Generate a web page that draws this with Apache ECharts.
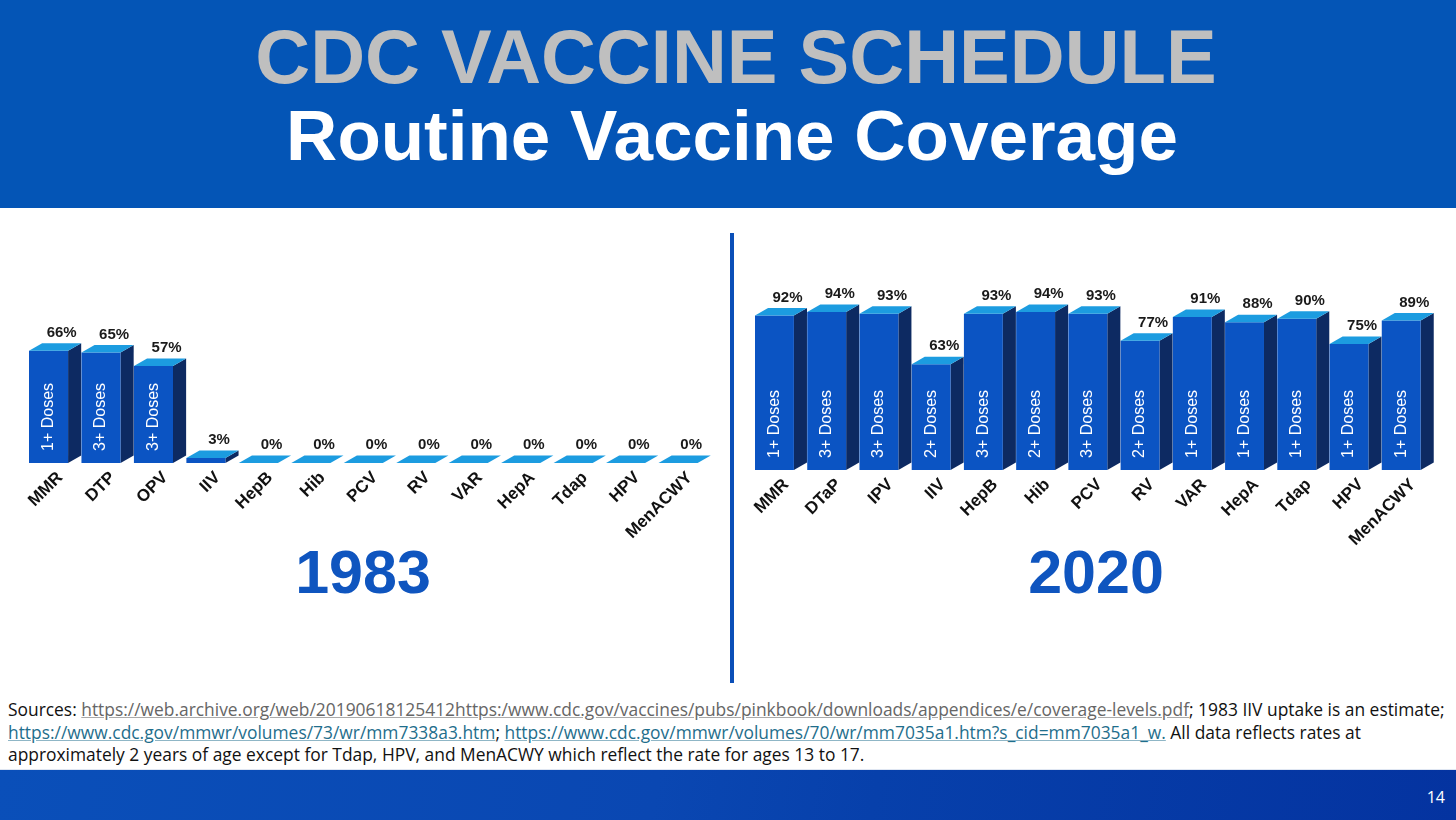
<!DOCTYPE html>
<html>
<head>
<meta charset="utf-8">
<title>CDC Vaccine Schedule - Routine Vaccine Coverage</title>
<script src="https://cdn.jsdelivr.net/npm/echarts@6/dist/echarts.min.js"></script>
<style>
    html, body { margin: 0; padding: 0; width: 1456px; height: 820px; overflow: hidden; background: #ffffff; }
    body { position: relative; font-family: "Liberation Sans", Arial, sans-serif; }
    #header { position: absolute; left: 0; top: 0; width: 1456px; height: 208px; background: #0455b6; }
    .head-line { position: absolute; left: 0; width: 1456px; text-align: center; font-weight: bold; line-height: 1; white-space: nowrap; }
    #title1 { top: 19px; left: 8px; font-size: 76px; color: #bfbfbf; }
    #title2 { top: 100px; left: 4px; font-size: 71px; color: #ffffff; }
    #main { position: absolute; left: 0; top: 208px; width: 1456px; height: 482px; }
    #sources { position: absolute; left: 8px; top: 698px; font-family: "Open Sans", sans-serif; font-size: 15px; line-height: 22.5px; color: #111111; white-space: nowrap; }
    #sources .grey { color: #666666; text-decoration: underline; text-decoration-color: #aaaaaa; }
    #sources .teal { color: #1f6e8c; text-decoration: underline; text-decoration-color: #8fb6c6; }
    #footer { position: absolute; left: 0; top: 769px; width: 1456px; height: 51px; background: linear-gradient(100deg, #0a4fb9 0%, #0a47b2 45%, #0740ab 60%, #0433a0 100%); border-top: 1px solid #dfe6f2; }
    #page { position: absolute; right: 11px; top: 16px; font-family: "Open Sans", sans-serif; font-size: 16px; color: #ffffff; }
</style>
</head>
<body>
<div id="header">
    <div id="title1" class="head-line">CDC VACCINE SCHEDULE</div>
    <div id="title2" class="head-line">Routine Vaccine Coverage</div>
</div>
<div id="main"></div>
<div id="sources"><span id="line1">Sources: <span class="grey">https://web.archive.org/web/20190618125412https:/www.cdc.gov/vaccines/pubs/pinkbook/downloads/appendices/e/coverage-levels.pdf</span>; 1983 IIV uptake is an estimate;</span><br><span class="teal">https://www.cdc.gov/mmwr/volumes/73/wr/mm7338a3.htm</span>; <span class="teal">https://www.cdc.gov/mmwr/volumes/70/wr/mm7035a1.htm?s_cid=mm7035a1_w.</span> All data reflects rates at<br>approximately 2 years of age except for Tdap, HPV, and MenACWY which reflect the rate for ages 13 to 17.</div>
<div id="footer"><div id="page">14</div></div>

<script>
    // 1983 coverage
    var cats1983 = ['MMR', 'DTP', 'OPV', 'IIV', 'HepB', 'Hib', 'PCV', 'RV', 'VAR', 'HepA', 'Tdap', 'HPV', 'MenACWY'];
    var vals1983 = [66, 65, 57, 3, 0, 0, 0, 0, 0, 0, 0, 0, 0];
    var doses1983 = ['1+ Doses', '3+ Doses', '3+ Doses', '', '', '', '', '', '', '', '', '', ''];

    // 2020 coverage
    var cats2020 = ['MMR', 'DTaP', 'IPV', 'IIV', 'HepB', 'Hib', 'PCV', 'RV', 'VAR', 'HepA', 'Tdap', 'HPV', 'MenACWY'];
    var vals2020 = [92, 94, 93, 63, 93, 94, 93, 77, 91, 88, 90, 75, 89];
    var doses2020 = ['1+ Doses', '3+ Doses', '3+ Doses', '2+ Doses', '3+ Doses', '2+ Doses', '3+ Doses',
        '2+ Doses', '1+ Doses', '1+ Doses', '1+ Doses', '1+ Doses', '1+ Doses'];

    var years = ['1983', '2020'];

    // fit the sources text to the slide width
    (function fitSources() {
        var box = document.getElementById('sources');
        var w = document.getElementById('line1').getBoundingClientRect().width;
        box.style.fontSize = (15 * 1437 / w).toFixed(2) + 'px';
    })();

    var chartDom = document.getElementById('main');
    var myChart = echarts.init(chartDom);

    var FRONT = '#0b54c3';
    var SIDE = '#0d2a62';
    var TOP = '#1c9ce0';
    var LABEL_SHIFT = 5; // category labels sit a little right of the bar centre

    function renderBar(doses) {
        return function (params, api) {
            var base = api.coord([api.value(0), 0]);
            var top = api.coord([api.value(0), api.value(1)]);
            var bw = api.size([1, 0])[0];
            var fw = bw * 0.745;
            var dx = bw * 0.25;
            var dy = 7.5;
            var x0 = base[0] - bw / 2 - LABEL_SHIFT;
            var x1 = x0 + fw;
            var yb = base[1];
            var yt = top[1];

            var children = [
                {
                    type: 'polygon',
                    shape: { points: [[x1, yt], [x1 + dx, yt - dy], [x1 + dx, yb - dy], [x1, yb]] },
                    style: { fill: SIDE }
                },
                {
                    type: 'rect',
                    shape: { x: x0, y: yt, width: fw, height: yb - yt },
                    style: { fill: FRONT }
                },
                {
                    type: 'polygon',
                    shape: { points: [[x0, yt], [x1, yt], [x1 + dx, yt - dy], [x0 + dx, yt - dy]] },
                    style: { fill: TOP }
                },
                {
                    type: 'text',
                    x: x0 + fw / 2 + dx,
                    y: yt - dy - 3,
                    style: {
                        text: api.value(1) + '%',
                        font: 'bold 15px "Liberation Sans", Arial, sans-serif',
                        fill: '#1a1a1a',
                        align: 'center',
                        verticalAlign: 'bottom'
                    }
                }
            ];

            var dose = doses[params.dataIndex];
            if (dose) {
                children.push({
                    type: 'text',
                    x: x0 + fw / 2,
                    y: yb - 12,
                    rotation: Math.PI / 2,
                    style: {
                        text: dose,
                        font: '16px "Liberation Sans", Arial, sans-serif',
                        fill: '#ffffff',
                        align: 'left',
                        verticalAlign: 'middle'
                    }
                });
            }
            return { type: 'group', children: children };
        };
    }

    function makeAxis(cats, idx) {
        return {
            type: 'category',
            gridIndex: idx,
            data: cats,
            axisLine: { show: false },
            axisTick: { show: false },
            axisLabel: {
                rotate: 45,
                interval: 0,
                margin: 12,
                color: '#111111',
                fontWeight: 'bold',
                fontSize: 17,
                fontFamily: '"Liberation Sans", Arial, sans-serif'
            }
        };
    }

    var option = {
        animation: false,
        grid: [
            { left: 29 + LABEL_SHIFT, top: 85, width: 682, height: 170 },
            { left: 755 + LABEL_SHIFT, top: 94, width: 679, height: 168 }
        ],
        xAxis: [makeAxis(cats1983, 0), makeAxis(cats2020, 1)],
        yAxis: [
            { type: 'value', gridIndex: 0, min: 0, max: 100, show: false },
            { type: 'value', gridIndex: 1, min: 0, max: 100, show: false }
        ],
        series: [
            {
                type: 'custom',
                name: years[0],
                xAxisIndex: 0,
                yAxisIndex: 0,
                renderItem: renderBar(doses1983),
                encode: { x: 0, y: 1 },
                data: vals1983.map(function (v, i) { return [i, v]; })
            },
            {
                type: 'custom',
                name: years[1],
                xAxisIndex: 1,
                yAxisIndex: 1,
                renderItem: renderBar(doses2020),
                encode: { x: 0, y: 1 },
                data: vals2020.map(function (v, i) { return [i, v]; })
            }
        ],
        graphic: [
            {
                type: 'rect',
                shape: { x: 730, y: 25, width: 4, height: 450 },
                style: { fill: '#0a4fb8' }
            },
            {
                type: 'text',
                x: 363,
                y: 368,
                style: {
                    text: years[0],
                    font: 'bold 61px "Liberation Sans", Arial, sans-serif',
                    fill: '#0f55bf',
                    align: 'center',
                    verticalAlign: 'middle'
                }
            },
            {
                type: 'text',
                x: 1096,
                y: 368,
                style: {
                    text: years[1],
                    font: 'bold 61px "Liberation Sans", Arial, sans-serif',
                    fill: '#0f55bf',
                    align: 'center',
                    verticalAlign: 'middle'
                }
            }
        ]
    };

    myChart.setOption(option);
</script>
</body>
</html>
